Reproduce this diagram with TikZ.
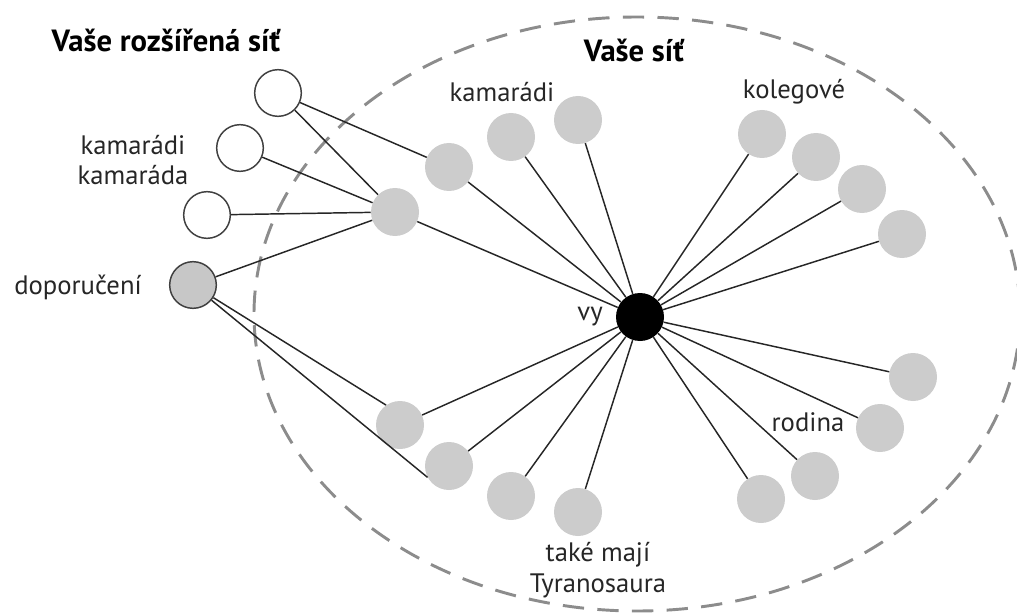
\documentclass[tikz,border=0pt]{standalone}
\usepackage{fontspec}
\setmainfont{PT Sans}
\begin{document}
\begin{tikzpicture}[x=0.75pt,y=-0.75pt,
  lbl/.style={font=\fontsize{20pt}{23pt}\selectfont, text=black!85, inner sep=0pt, align=center},
  ttl/.style={font=\fontsize{23pt}{27pt}\selectfont\bfseries, text=black, inner sep=0pt},
  friend/.style={circle, fill=black!20, minimum size=36pt, inner sep=0pt},
  ext/.style={circle, draw=black!75, line width=1.1pt, fill=white, minimum size=35pt, inner sep=0pt},
  rec/.style={circle, draw=black!75, line width=1.1pt, fill=black!22, minimum size=35pt, inner sep=0pt},
  me/.style={circle, fill=black, minimum size=36pt, inner sep=0pt},
  link/.style={draw=black!85, line width=1.1pt},
  boundary/.style={draw=black!45, line width=2.2pt, dash pattern=on 16pt off 10pt}
]
\useasboundingbox (0,0) rectangle (1017,613);
\draw[boundary] (637,314) ellipse [x radius=383, y radius=297];

% titles and labels
\node[ttl] (t1) at (166,40) {Vaše rozšířená síť};
\node[ttl] (t2) at (634,50) {Vaše síť};
\node[lbl] (l1) at (502,92) {kamarádi};
\node[lbl] (l2) at (794,92) {kolegové};
\node[lbl] (l3) at (598,570) {také mají\\Tyranosaura};
\node[lbl] (l4) at (133,160) {kamarádi\\kamaráda};
\node[lbl] (l5) at (78,287) {doporučení};
\node[lbl] (l6) at (590,317) {vy};
\node[lbl] (l7) at (808,422) {rodina};

% nodes
\node[me] (vy) at (640,317) {};
\node[ext] (w1) at (278,93) {};
\node[ext] (w2) at (240,148) {};
\node[ext] (w3) at (207,215) {};
\node[rec] (dop) at (193,285) {};
\node[friend] (hub) at (395,212) {};
\node[friend] (k1) at (449,167) {};
\node[friend] (k2) at (511,137) {};
\node[friend] (k3) at (578,120) {};
\node[friend] (c1) at (762,134) {};
\node[friend] (c2) at (816,157) {};
\node[friend] (c3) at (862,189) {};
\node[friend] (c4) at (902,234) {};
\node[friend] (r1) at (913,377) {};
\node[friend] (r2) at (880,428) {};
\node[friend] (r3) at (815,476) {};
\node[friend] (r4) at (761,499) {};
\node[friend] (b1) at (400,425) {};
\node[friend] (b2) at (449,466) {};
\node[friend] (b3) at (511,496) {};
\node[friend] (b4) at (578,512) {};

% connectors
\foreach \n in {hub,k1,k2,k3,c1,c2,c3,c4,r1,r2,r3,r4,b1,b2,b3,b4}
  \draw[link] (vy) -- (\n);
\draw[link] (w1) -- (k1);
\draw[link] (w1) -- (hub);
\draw[link] (w2) -- (hub);
\draw[link] (w3) -- (hub);
\draw[link] (dop) -- (hub);
\draw[link] (dop) -- (b1.125);
\draw[link] (dop) -- (b2.208);
\end{tikzpicture}
\end{document}
